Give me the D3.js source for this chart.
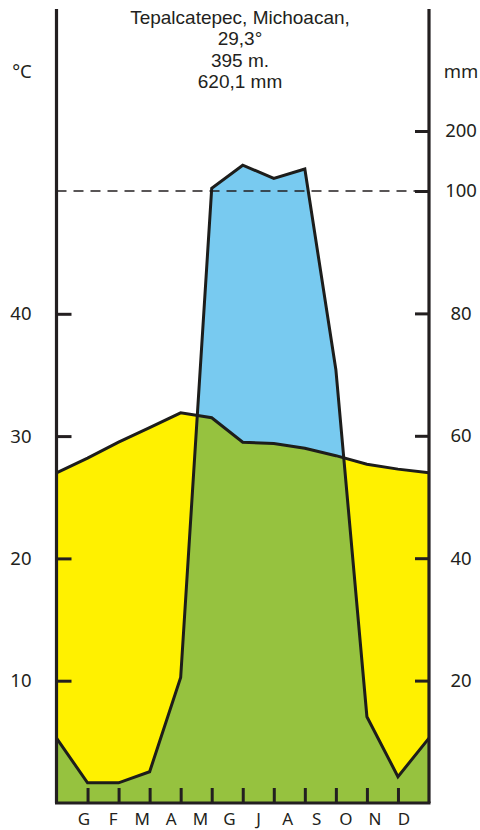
<!DOCTYPE html>
<html><head><meta charset="utf-8">
<script src="https://cdn.jsdelivr.net/npm/d3@7"></script>
<style>
body{margin:0;background:#fff;}
svg text{font-family:"Noto Sans",sans-serif;fill:#231f20;}
</style></head>
<body><svg id="c" width="480" height="830"></svg>
<script>
const months = ["G","F","M","A","M","G","J","A","S","O","N","D"];
// monthly mean temperature (°C), January..December
const temperature = [28.2,29.5,30.7,31.9,31.5,29.5,29.4,29.0,28.4,27.7,27.3,27.0];
// monthly precipitation (mm), January..December
const precipitation = [3.3,3.3,5.1,20.5,104.5,143,121,136.7,70.8,14.1,4.3,10.6];
const tempTicks = [10,20,30,40];
const precTicks = [20,40,60,80,100,200];
const titleLines = ["Tepalcatepec, Michoacan,","29,3°","395 m.","620,1 mm"];

const svg = d3.select("#c");
const L = 56.5, R = 429, B = 803, T = 9;
const x = d3.scaleLinear().domain([0,12]).range([L,R]);
const yT = d3.scaleLinear().domain([0,40]).range([B,313.8]);
const yP = d3.scaleLinear().domain([0,100,300]).range([B,191,71]);

// points k=0 (December wrap) .. 12
const tPts = [temperature[11]].concat(temperature).map((v,i)=>({k:i,v}));
const pPts = [precipitation[11]].concat(precipitation).map((v,i)=>({k:i,v}));

const areaT = d3.area().x(d=>x(d.k)).y0(B).y1(d=>yT(d.v));
const areaP = d3.area().x(d=>x(d.k)).y0(B).y1(d=>yP(d.v));
const lineT = d3.line().x(d=>x(d.k)).y(d=>yT(d.v));
const lineP = d3.line().x(d=>x(d.k)).y(d=>yP(d.v));

svg.append("clipPath").attr("id","clipT").append("path").attr("d",areaT(tPts));

svg.append("path").attr("d",areaT(tPts)).attr("fill","#fff100");
svg.append("path").attr("d",areaP(pPts)).attr("fill","#78caf0");
svg.append("path").attr("d",areaP(pPts)).attr("fill","#96c23f").attr("clip-path","url(#clipT)");

// dashed 100 mm line
svg.append("line").attr("x1",L).attr("x2",R).attr("y1",yP(100)).attr("y2",yP(100))
  .attr("stroke","#231f20").attr("stroke-width",1.5).attr("stroke-dasharray","10,7");

svg.append("path").attr("d",lineP(pPts)).attr("fill","none").attr("stroke","#1d1d1b").attr("stroke-width",3);
svg.append("path").attr("d",lineT(tPts)).attr("fill","none").attr("stroke","#1d1d1b").attr("stroke-width",3);

// axes lines
const ax = svg.append("g").attr("stroke","#231f20").attr("stroke-width",3.2).attr("fill","none");
ax.append("line").attr("x1",L).attr("x2",L).attr("y1",T).attr("y2",B);
ax.append("line").attr("x1",R).attr("x2",R).attr("y1",T).attr("y2",B);
ax.append("line").attr("x1",L-1.5).attr("x2",R+1.5).attr("y1",B).attr("y2",B);

function style(g){
  g.select(".domain").remove();
  g.selectAll(".tick line").attr("stroke","#231f20").attr("stroke-width",3);
  g.selectAll(".tick text").attr("font-size",18.5).attr("fill","#231f20").attr("font-family","Noto Sans");
}
svg.append("g").attr("transform",`translate(${L},0)`)
  .call(d3.axisLeft(yT).tickValues(tempTicks).tickSizeInner(-15).tickSizeOuter(0).tickPadding(25).tickFormat(d3.format("d")))
  .call(style);
const gr = svg.append("g").attr("transform",`translate(${R},0)`)
  .call(d3.axisRight(yP).tickValues(precTicks).tickSizeInner(-14).tickSizeOuter(0).tickPadding(32).tickFormat(d3.format("d")))
  .call(style);
gr.selectAll(".tick text").attr("text-anchor","middle");
svg.append("g").attr("transform",`translate(0,${B})`)
  .call(d3.axisBottom(x).tickValues(d3.range(1,12)).tickSizeInner(-15).tickSizeOuter(0).tickFormat(""))
  .call(style);

const xm = d3.scalePoint().domain(d3.range(12)).range([84,404]);
svg.append("g").selectAll("text").data(months).join("text")
  .attr("x",(d,i)=>xm(i)).attr("y",825).attr("text-anchor","middle").attr("font-size",17).text(d=>d);

svg.append("text").attr("x",22).attr("y",78).attr("text-anchor","middle").attr("font-size",18.5).text("°C");
svg.append("text").attr("x",461).attr("y",78).attr("text-anchor","middle").attr("font-size",18.5).text("mm");

svg.append("g").selectAll("text").data(titleLines).join("text")
  .attr("x",240).attr("y",(d,i)=>24+i*21.3).attr("text-anchor","middle")
  .style("font-family","'Liberation Sans',sans-serif").attr("font-size",19).text(d=>d);
</script></body></html>
